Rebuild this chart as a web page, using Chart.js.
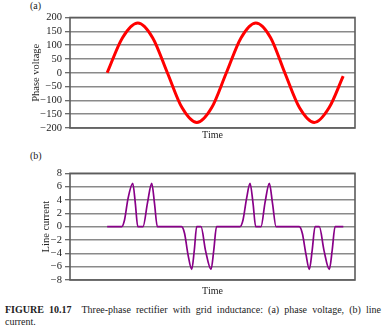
<!DOCTYPE html>
<html>
<head>
<meta charset="utf-8">
<script src="https://cdn.jsdelivr.net/npm/chart.js@4/dist/chart.umd.min.js"></script>
<style>
    body { margin: 0; background: #fff; }
    #page { position: relative; width: 385px; height: 328px; font-family: 'Liberation Serif', 'DejaVu Serif', serif; color: #222; }
    .panel-tag { position: absolute; left: 30px; font-size: 10px; line-height: 12px; }
    .plot { position: absolute; left: 0; }
    #caption { position: absolute; left: 5px; top: 304px; width: 376px; font-size: 10px; line-height: 12px; }
    #caption .first { text-align: justify; text-align-last: justify; }
    #caption b { font-weight: bold; margin-right: 5px; }
</style>
</head>
<body>
<div id="page">
    <div class="panel-tag" style="top:0px">(a)</div>
    <canvas class="plot" id="voltageChart" width="385" height="141" style="top:0px"></canvas>
    <div class="panel-tag" style="top:150px">(b)</div>
    <canvas class="plot" id="currentChart" width="385" height="150" style="top:150px"></canvas>
    <div id="caption">
        <div class="first"><b>FIGURE 10.17</b> Three-phase rectifier with grid inductance: (a) phase voltage, (b) line</div>
        <div>current.</div>
    </div>
</div>

<script>
/* phase voltage, time in ms */
const voltageTime = [6.3, 8.9, 11.5, 14.0, 16.5, 19.0, 21.5, 24.0, 26.5, 29.0, 31.5, 34.0, 36.4, 38.9, 41.4, 43.9, 46.3];
const voltageValues = [0, 127, 180, 127, 0, -127, -180, -127, 0, 127, 180, 127, 0, -127, -180, -127, -12];

/* line current pulses, time in ms */
const currentTime = [
    6.3, 8.76, 9.24, 9.83, 10.63, 11.07, 11.49, 12.37, 13.14, 13.85, 14.32, 14.80,
    18.90, 19.41, 20.00, 20.63, 21.07, 21.47, 22.20, 22.97, 23.90, 24.37, 24.83,
    28.81, 29.32, 29.92, 30.51, 31.02, 31.47, 32.37, 33.05, 33.78, 34.32, 34.92,
    38.86, 39.37, 40.00, 40.56, 41.05, 41.53, 42.25, 43.05, 43.95, 44.44, 44.92, 46.32
];
const currentValues = [
    0, 0, 1.0, 4.2, 6.5, 3.5, 0, 0, 3.6, 6.5, 3.5, 0,
    0, -1.0, -4.2, -6.4, -3.5, 0, 0, -3.6, -6.4, -3.5, 0,
    0, 1.0, 4.2, 6.5, 3.5, 0, 0, 3.6, 6.5, 3.5, 0,
    0, -1.0, -4.2, -6.4, -3.5, 0, 0, -3.6, -6.4, -3.5, 0, 0
];

const voltageTicks = { min: -200, max: 200, step: 50 };
const currentTicks = { min: -8, max: 8, step: 2 };

const SERIF = "'Liberation Serif', 'DejaVu Serif', serif";
const GRID = '#8a8a8a';
const FRAME = '#5c5c5c';

// box round the plot area
const framePlugin = {
    id: 'frame',
    beforeDatasetsDraw(chart) {
        const { ctx, chartArea: a } = chart;
        ctx.save();
        ctx.strokeStyle = FRAME;
        ctx.lineWidth = 1.6;
        ctx.strokeRect(a.left, a.top, a.right - a.left, a.bottom - a.top);
        ctx.restore();
    }
};

const minus = v => (v < 0 ? '\u2212' + Math.abs(v) : '' + v);

function makeChart(id, times, values, color, width, yTitle, range, axisWidth, xHeight, padding) {
    const ctx = document.getElementById(id).getContext('2d');
    return new Chart(ctx, {
        type: 'line',
        data: {
            datasets: [{
                data: times.map((t, i) => ({ x: t, y: values[i] })),
                borderColor: color,
                borderWidth: width,
                pointRadius: 0,
                cubicInterpolationMode: 'monotone',
                fill: false
            }]
        },
        options: {
            responsive: false,
            animation: false,
            layout: { padding: padding },
            plugins: { legend: { display: false }, tooltip: { enabled: false } },
            scales: {
                x: {
                    type: 'linear',
                    min: 0,
                    max: 48.3,
                    grid: { display: false },
                    border: { display: false },
                    ticks: { display: false },
                    title: { display: true, text: 'Time', color: '#222', padding: 0, font: { family: SERIF, size: 10 } },
                    afterFit: s => { s.height = xHeight; }
                },
                y: {
                    min: range.min,
                    max: range.max,
                    grid: { color: GRID, lineWidth: 1.4, tickLength: 5, tickColor: FRAME, tickWidth: 1.2 },
                    border: { display: false },
                    ticks: {
                        stepSize: range.step,
                        autoSkip: false,
                        padding: 3,
                        color: '#222',
                        font: { family: SERIF, size: 10.5 },
                        callback: v => minus(v)
                    },
                    title: { display: true, text: yTitle, color: '#222', padding: 0, font: { family: SERIF, size: 10.5 } },
                    afterFit: s => { s.width = axisWidth; }
                }
            }
        },
        plugins: [framePlugin]
    });
}

makeChart('voltageChart', voltageTime, voltageValues, '#ff0000', 3, 'Phase voltage',
    voltageTicks, 40, 13, { left: 30, right: 30, top: 17.5, bottom: 0 });

makeChart('currentChart', currentTime, currentValues, '#880088', 1.7, 'Line current',
    currentTicks, 30.5, 17, { left: 39.5, right: 30, top: 23.3, bottom: 3 });
</script>
</body>
</html>
